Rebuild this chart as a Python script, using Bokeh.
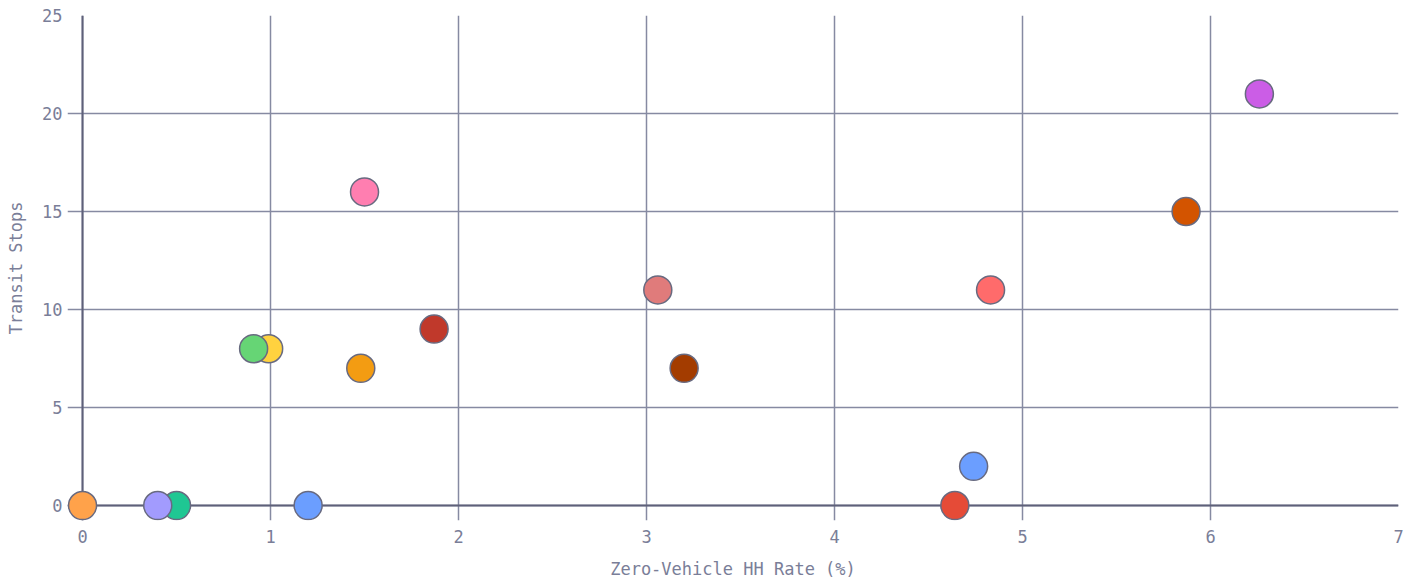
from bokeh.plotting import figure
from bokeh.models import ColumnDataSource, Range1d, FixedTicker, Span
from bokeh.embed import file_html
from bokeh.resources import INLINE

zero_vehicle_rate = [0.0, 0.50, 0.40, 1.20, 0.99, 0.91, 1.48, 1.50, 1.87, 3.06, 3.20, 4.64, 4.74, 4.83, 5.87, 6.26]
transit_stops =     [0,   0,    0,    0,    8,    8,    7,    16,   9,    11,   7,    0,    2,    11,   15,   21]
colors = ["#ffa24a", "#1fc793", "#a29bfe", "#6b9eff", "#ffd23f", "#66d575", "#f39c12", "#ff7eb0",
          "#c0392b", "#e07b7b", "#a33c00", "#e54b37", "#6b9eff", "#ff6b6b", "#d35400", "#cb5de6"]
x_ticks = [0, 1, 2, 3, 4, 5, 6, 7]
y_ticks = [0, 5, 10, 15, 20, 25]

src = ColumnDataSource(dict(x=zero_vehicle_rate, y=transit_stops, c=colors))

FONT = "DejaVu Sans Mono"
TXT = "#7a7e98"
GRID = "#868aa2"
AXIS = "#5e6079"

# small padding on the left/bottom so markers on the zero lines are not clipped;
# the grid lines running into the padding look like outward tick marks
p = figure(width=1415, height=581, output_backend="svg", toolbar_location=None,
           x_range=Range1d(-0.08, 7), y_range=Range1d(-0.765, 25),
           min_border_left=67, min_border_right=17, min_border_top=15, min_border_bottom=61)
p.outline_line_color = None
p.background_fill_color = "white"
p.border_fill_color = "white"

for ax in (p.xaxis[0], p.yaxis[0]):
    ax.major_label_text_font = FONT
    ax.major_label_text_font_size = "17px"
    ax.major_label_text_color = TXT
    ax.axis_label_text_font = FONT
    ax.axis_label_text_font_size = "17px"
    ax.axis_label_text_color = TXT
    ax.axis_label_text_font_style = "normal"
    ax.major_tick_in = 0
    ax.major_tick_out = 0
    ax.major_tick_line_color = None
    ax.minor_tick_line_color = None
    ax.axis_line_color = None

p.xaxis.ticker = FixedTicker(ticks=x_ticks)
p.yaxis.ticker = FixedTicker(ticks=y_ticks)
p.xaxis.axis_label = "Zero-Vehicle HH Rate (%)"
p.yaxis.axis_label = "Transit Stops"
p.xaxis.major_label_standoff = 9
p.yaxis.major_label_standoff = 5
p.xaxis.axis_label_standoff = 13
p.yaxis.axis_label_standoff = 13

p.xgrid.grid_line_color = GRID
p.ygrid.grid_line_color = GRID
p.xgrid.grid_line_width = 1.5
p.ygrid.grid_line_width = 1.5
p.xgrid.ticker = FixedTicker(ticks=x_ticks)
p.ygrid.ticker = FixedTicker(ticks=y_ticks)

p.add_layout(Span(location=0, dimension="height", line_color=AXIS, line_width=2, level="underlay"))
p.add_layout(Span(location=0, dimension="width", line_color=AXIS, line_width=2, level="underlay"))

p.scatter("x", "y", source=src, size=28, fill_color="c", line_color="#686a80", line_width=1.5)

open("out.html", "w").write(file_html(p, INLINE))
